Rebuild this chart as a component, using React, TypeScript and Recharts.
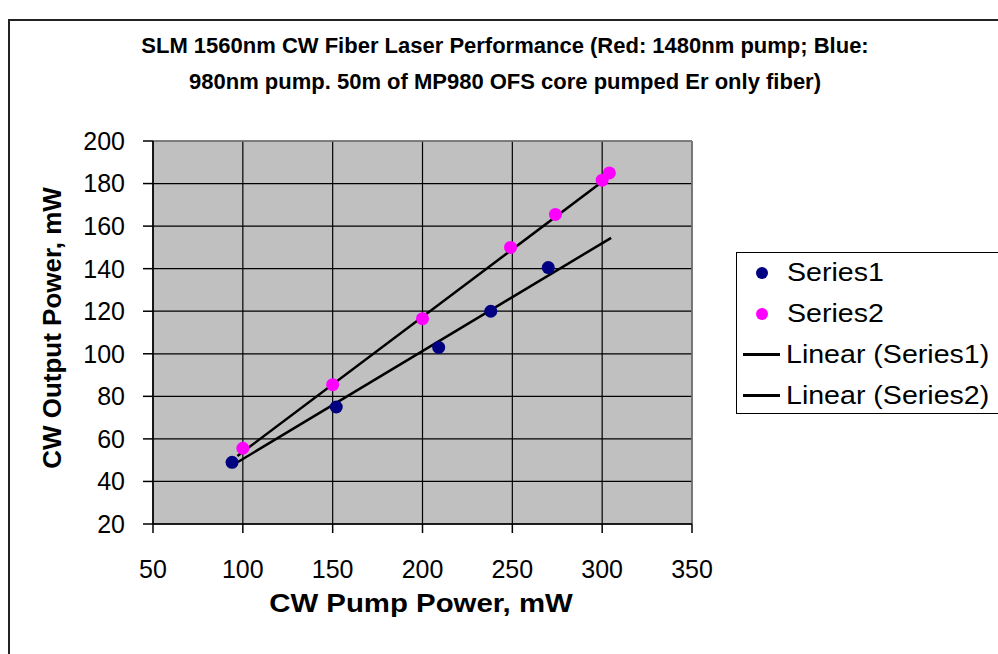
import React from 'react';
import { ScatterChart, Scatter, XAxis, YAxis, CartesianGrid, ReferenceLine } from 'recharts';

const series1 = [
  { x: 94, y: 49 },
  { x: 152, y: 75 },
  { x: 209, y: 103 },
  { x: 238, y: 120 },
  { x: 270, y: 140.5 },
];
const series2 = [
  { x: 100, y: 55.6 },
  { x: 150, y: 85.5 },
  { x: 200, y: 116.5 },
  { x: 249, y: 150 },
  { x: 274, y: 165.5 },
  { x: 300, y: 181.6 },
  { x: 304, y: 185 },
];
const trend1 = [
  { x: 94, y: 47.5 },
  { x: 305, y: 154.5 },
];
const trend2 = [
  { x: 97, y: 52 },
  { x: 305, y: 184 },
];
const xTicks = [50, 100, 150, 200, 250, 300, 350];
const yTicks = [20, 40, 60, 80, 100, 120, 140, 160, 180, 200];
const titleLines = [
  'SLM 1560nm CW Fiber Laser Performance (Red: 1480nm pump; Blue:',
  '980nm pump. 50m of MP980 OFS core pumped Er only fiber)',
];
const legendItems = [
  { name: 'Series1', kind: 'dot', color: '#000080' },
  { name: 'Series2', kind: 'dot', color: '#FF00FF' },
  { name: 'Linear (Series1)', kind: 'line', color: '#000000' },
  { name: 'Linear (Series2)', kind: 'line', color: '#000000' },
];

const FONT = '"Liberation Sans", Arial, sans-serif';

const dot = (color: string) => (props: any) => (
  <circle cx={props.cx} cy={props.cy} r={6.5} fill={color} />
);
const noDot = () => <g />;

export default function App() {
  return (
    <div
      style={{
        position: 'absolute',
        left: 0,
        top: 0,
        width: 998,
        height: 654,
        background: '#fff',
        overflow: 'hidden',
        fontFamily: FONT,
      }}
    >
      <div
        style={{
          position: 'absolute',
          left: 8,
          top: 19,
          width: 1100,
          height: 800,
          border: '2px solid #222',
          boxSizing: 'border-box',
        }}
      />
      {titleLines.map((t, i) => (
        <div
          key={i}
          style={{
            position: 'absolute',
            left: 0,
            width: 1010,
            top: 33 + i * 36,
            textAlign: 'center',
            fontWeight: 'bold',
            fontSize: 22,
            lineHeight: '26px',
            color: '#000',
            whiteSpace: 'nowrap',
          }}
        >
          {t}
        </div>
      ))}
      <div style={{ position: 'absolute', left: 0, top: 0 }}>
        <ScatterChart
          width={998}
          height={654}
          margin={{ top: 141, right: 306, bottom: 80, left: 53 }}
        >
          <CartesianGrid fill="#C0C0C0" stroke="#000" strokeWidth={1.2} />
          <XAxis
            dataKey="x"
            type="number"
            domain={[50, 350]}
            ticks={xTicks}
            height={50}
            tickSize={9}
            tickMargin={27}
            axisLine={{ stroke: '#000', strokeWidth: 1.5 }}
            tickLine={{ stroke: '#000', strokeWidth: 1.5 }}
            tick={{ fill: '#000', fontSize: 25, fontFamily: FONT }}
            allowDataOverflow
          />
          <YAxis
            dataKey="y"
            type="number"
            domain={[20, 200]}
            ticks={yTicks}
            width={100}
            tickSize={10}
            tickMargin={18}
            axisLine={{ stroke: '#000', strokeWidth: 1.5 }}
            tickLine={{ stroke: '#000', strokeWidth: 1.5 }}
            tick={{ fill: '#000', fontSize: 25, fontFamily: FONT }}
            allowDataOverflow
          />
          <ReferenceLine y={200} stroke="#808080" strokeWidth={1.5} />
          <ReferenceLine x={350} stroke="#808080" strokeWidth={1.5} />
          <Scatter
            data={trend1}
            line={{ stroke: '#000', strokeWidth: 2.5 }}
            shape={noDot}
            isAnimationActive={false}
          />
          <Scatter
            data={trend2}
            line={{ stroke: '#000', strokeWidth: 2.5 }}
            shape={noDot}
            isAnimationActive={false}
          />
          <Scatter data={series1} shape={dot('#000080')} isAnimationActive={false} />
          <Scatter data={series2} shape={dot('#FF00FF')} isAnimationActive={false} />
        </ScatterChart>
      </div>
      <div
        style={{
          position: 'absolute',
          left: 421,
          top: 603,
          transform: 'translate(-50%, -50%) scaleX(1.13)',
          fontWeight: 'bold',
          fontSize: 26,
          whiteSpace: 'nowrap',
        }}
      >
        CW Pump Power, mW
      </div>
      <div
        style={{
          position: 'absolute',
          left: 52,
          top: 328,
          transform: 'translate(-50%, -50%) rotate(-90deg)',
          fontWeight: 'bold',
          fontSize: 26,
          whiteSpace: 'nowrap',
        }}
      >
        CW Output Power, mW
      </div>
      <div
        style={{
          position: 'absolute',
          left: 736,
          top: 252,
          width: 300,
          height: 162,
          border: '1.5px solid #000',
          boxSizing: 'border-box',
          background: '#fff',
        }}
      >
        {legendItems.map((it, i) => (
          <div
            key={it.name}
            style={{
              position: 'absolute',
              left: 0,
              top: -1 + i * 41,
              height: 41,
              display: 'flex',
              alignItems: 'center',
              whiteSpace: 'nowrap',
            }}
          >
            {it.kind === 'dot' ? (
              <span
                style={{
                  display: 'inline-block',
                  width: 12,
                  height: 12,
                  borderRadius: 6,
                  background: it.color,
                  marginLeft: 19,
                  marginRight: 19,
                }}
              />
            ) : (
              <span
                style={{
                  display: 'inline-block',
                  width: 37,
                  height: 2.5,
                  background: it.color,
                  marginLeft: 6,
                  marginRight: 6,
                }}
              />
            )}
            <span
              style={{
                fontSize: 25.5,
                display: 'inline-block',
                transform: 'scaleX(1.12)',
                transformOrigin: 'left center',
              }}
            >
              {it.name}
            </span>
          </div>
        ))}
      </div>
    </div>
  );
}
